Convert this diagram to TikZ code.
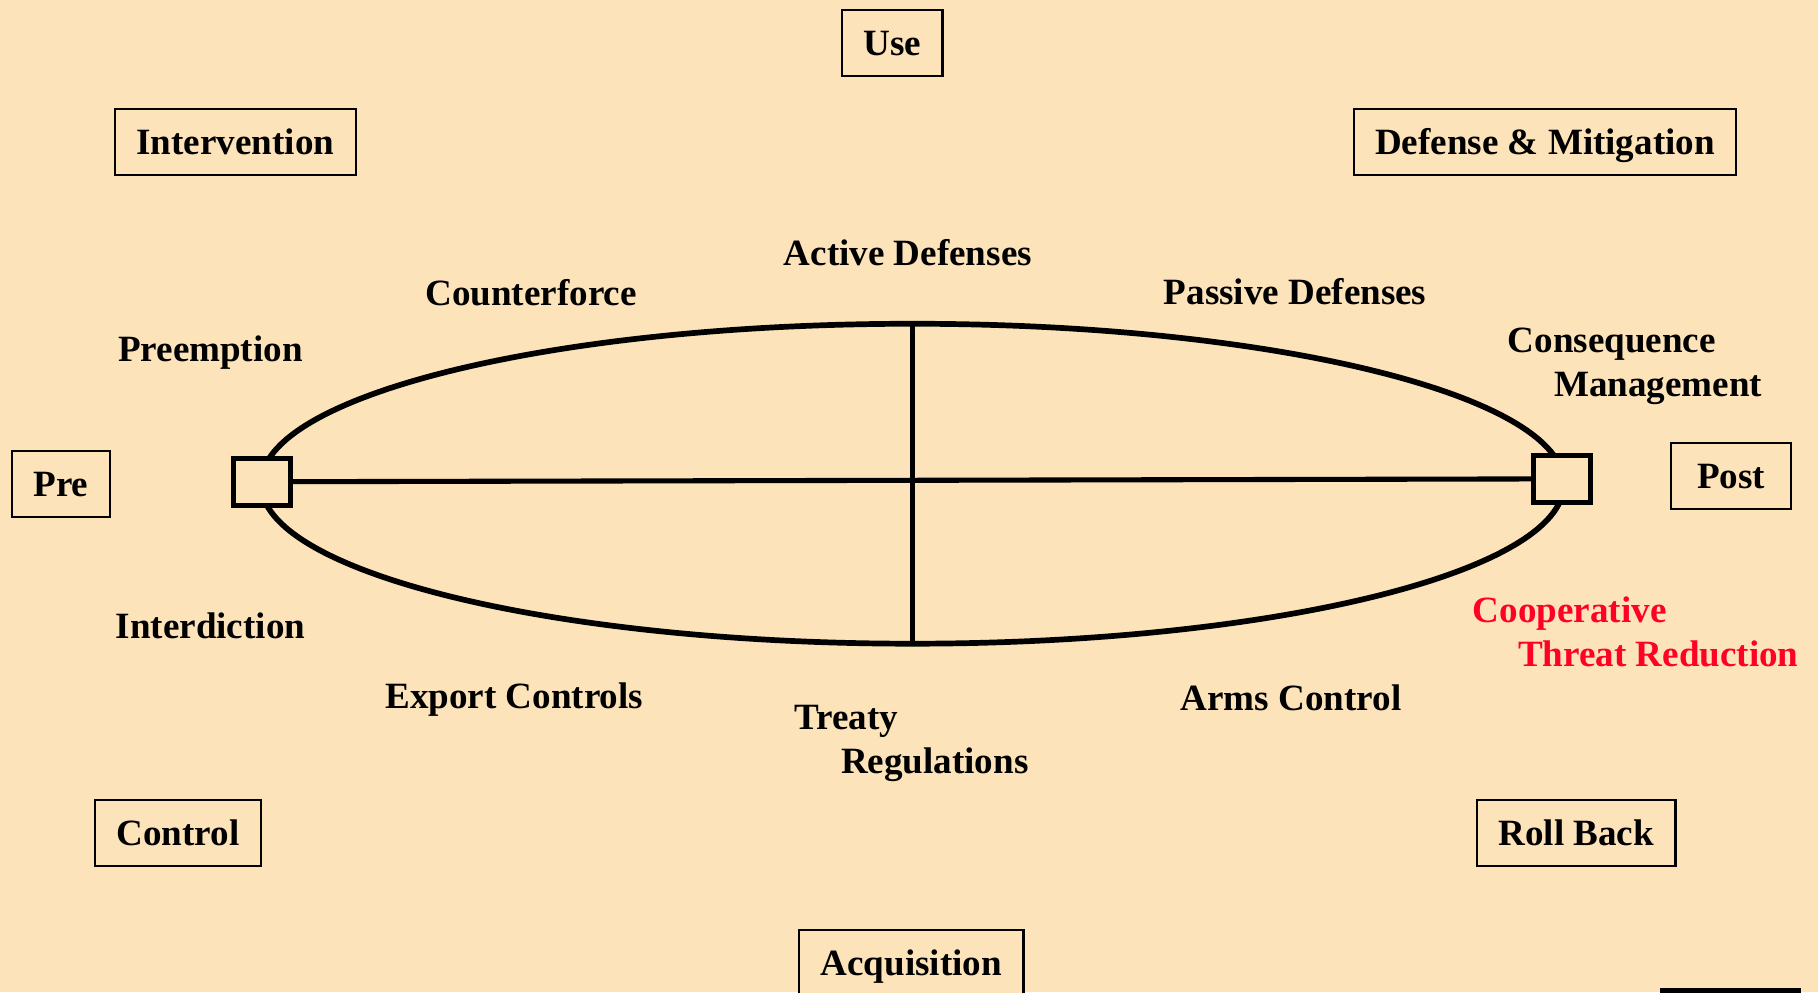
\documentclass[tikz,border=0pt]{standalone}
\usepackage{fontspec}
\setmainfont{Liberation Serif}
\usetikzlibrary{shapes.geometric}
\definecolor{sand}{RGB}{252,227,186}
\definecolor{ctr_red}{RGB}{255,0,38}
\tikzstyle{bx}=[rectangle,draw=black,fill=sand,line width=1.1pt,
  inner xsep=0.37cm,inner ysep=0pt,minimum height=1.14cm,
  text height=12.1pt,text depth=0pt,font=\fontsize{18.2pt}{21.7pt}\selectfont\bfseries]
\tikzstyle{lb}=[inner sep=0pt,text height=12.1pt,text depth=0pt,
  font=\fontsize{18.2pt}{21.7pt}\selectfont\bfseries]
\tikzstyle{lbtwo}=[inner sep=0pt,align=left,anchor=north west,
  font=\fontsize{18.2pt}{21.7pt}\selectfont\bfseries]
\tikzstyle{sq}=[rectangle,draw=black,fill=sand,line width=2.45pt,
  inner sep=0pt,minimum width=0.98cm,minimum height=0.81cm]
\tikzstyle{ov}=[ellipse,draw=black,line width=2.8pt,inner sep=0pt,outer sep=0pt,
  minimum width=22.48cm,minimum height=5.52cm]

\begin{document}
\begin{tikzpicture}[x=0.02cm,y=-0.02cm]
        \useasboundingbox (0,0) rectangle (1568,856);
        \fill[sand] (0,0) rectangle (1568,856);
        \node[style=ov] (0) at (787,417.2) {};
        \node[style=sq] (1) at (226,415.5) {};
        \node[style=sq] (2) at (1347,413) {};
        \draw[line width=2.5pt] (1) to (2);
        \draw[line width=2.5pt] (0.north) to (0.south);
        \node[style=bx] (3) at (769.5,37) {Use};
        \node[style=bx] (4) at (203,122.5) {Intervention};
        \node[style=bx] (5) at (1332.5,122.5) {Defense \& Mitigation};
        \node[style=bx] (6) at (52.5,417.5) {Pre};
        \node[style=bx,minimum width=2.08cm] (7) at (1493,410.5) {Post\hspace{0.2cm}};
        \node[style=bx] (8) at (153.5,718.5) {Control};
        \node[style=bx] (9) at (1359.5,718.5) {Roll Back};
        \node[style=bx] (10) at (786,830.5) {Acquisition};
        \node[style=lb] (11) at (783,218) {Active Defenses};
        \node[style=lb] (12) at (458,253) {Counterforce};
        \node[style=lb] (13) at (1117,251.6) {Passive Defenses};
        \node[style=lb] (14) at (181.5,301) {Preemption};
        \node[style=lbtwo] (15) at (1300,282.5) {Consequence\\\hspace{0.8cm}Management};
        \node[style=lb] (16) at (181.5,540) {Interdiction};
        \node[style=lb] (17) at (443.5,600) {Export Controls};
        \node[style=lbtwo] (18) at (685,607.5) {Treaty\\\hspace{0.8cm}Regulations};
        \node[style=lb] (19) at (1113.5,602) {Arms Control};
        \node[style=lbtwo,text=ctr_red] (20) at (1270,514.5) {Cooperative\\\hspace{0.78cm}Threat Reduction};
        \fill (1432,852) rectangle (1553,857);
    \end{tikzpicture}
\end{document}
